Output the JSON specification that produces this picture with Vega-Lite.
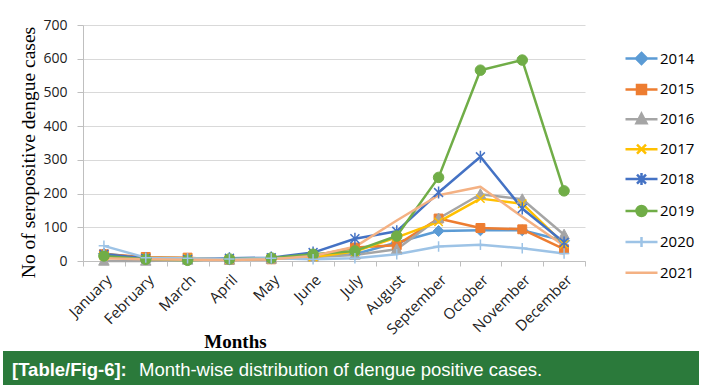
{
  "$schema": "https://vega.github.io/schema/vega-lite/v6.json",
  "padding": {"left": 3, "top": 18, "right": 0, "bottom": 0},
  "background": "white",
  "config": {"view": {"stroke": null}},
  "spacing": -1,
  "vconcat": [
    {
      "width": 502,
      "height": 236,
      "data": {"values": [
        {"month":"January","year":"2014","cases":22},{"month":"February","year":"2014","cases":8},{"month":"March","year":"2014","cases":5},{"month":"April","year":"2014","cases":5},{"month":"May","year":"2014","cases":8},{"month":"June","year":"2014","cases":15},{"month":"July","year":"2014","cases":20},{"month":"August","year":"2014","cases":55},{"month":"September","year":"2014","cases":89},{"month":"October","year":"2014","cases":91},{"month":"November","year":"2014","cases":91},{"month":"December","year":"2014","cases":60},
        {"month":"January","year":"2015","cases":20},{"month":"February","year":"2015","cases":12},{"month":"March","year":"2015","cases":10},{"month":"April","year":"2015","cases":3},{"month":"May","year":"2015","cases":5},{"month":"June","year":"2015","cases":15},{"month":"July","year":"2015","cases":40},{"month":"August","year":"2015","cases":47},{"month":"September","year":"2015","cases":126},{"month":"October","year":"2015","cases":98},{"month":"November","year":"2015","cases":94},{"month":"December","year":"2015","cases":35},
        {"month":"January","year":"2016","cases":0},{"month":"February","year":"2016","cases":0},{"month":"March","year":"2016","cases":3},{"month":"April","year":"2016","cases":3},{"month":"May","year":"2016","cases":6},{"month":"June","year":"2016","cases":12},{"month":"July","year":"2016","cases":18},{"month":"August","year":"2016","cases":35},{"month":"September","year":"2016","cases":126},{"month":"October","year":"2016","cases":198},{"month":"November","year":"2016","cases":183},{"month":"December","year":"2016","cases":78},
        {"month":"January","year":"2017","cases":15},{"month":"February","year":"2017","cases":10},{"month":"March","year":"2017","cases":8},{"month":"April","year":"2017","cases":5},{"month":"May","year":"2017","cases":8},{"month":"June","year":"2017","cases":12},{"month":"July","year":"2017","cases":28},{"month":"August","year":"2017","cases":70},{"month":"September","year":"2017","cases":116},{"month":"October","year":"2017","cases":185},{"month":"November","year":"2017","cases":170},{"month":"December","year":"2017","cases":50},
        {"month":"January","year":"2018","cases":20},{"month":"February","year":"2018","cases":8},{"month":"March","year":"2018","cases":5},{"month":"April","year":"2018","cases":8},{"month":"May","year":"2018","cases":10},{"month":"June","year":"2018","cases":25},{"month":"July","year":"2018","cases":66},{"month":"August","year":"2018","cases":88},{"month":"September","year":"2018","cases":203},{"month":"October","year":"2018","cases":309},{"month":"November","year":"2018","cases":156},{"month":"December","year":"2018","cases":55},
        {"month":"January","year":"2019","cases":15},{"month":"February","year":"2019","cases":5},{"month":"March","year":"2019","cases":2},{"month":"April","year":"2019","cases":6},{"month":"May","year":"2019","cases":9},{"month":"June","year":"2019","cases":20},{"month":"July","year":"2019","cases":30},{"month":"August","year":"2019","cases":74},{"month":"September","year":"2019","cases":248},{"month":"October","year":"2019","cases":566},{"month":"November","year":"2019","cases":596},{"month":"December","year":"2019","cases":208},
        {"month":"January","year":"2020","cases":45},{"month":"February","year":"2020","cases":10},{"month":"March","year":"2020","cases":8},{"month":"April","year":"2020","cases":6},{"month":"May","year":"2020","cases":8},{"month":"June","year":"2020","cases":5},{"month":"July","year":"2020","cases":8},{"month":"August","year":"2020","cases":20},{"month":"September","year":"2020","cases":43},{"month":"October","year":"2020","cases":48},{"month":"November","year":"2020","cases":38},{"month":"December","year":"2020","cases":22},
        {"month":"January","year":"2021","cases":8},{"month":"February","year":"2021","cases":5},{"month":"March","year":"2021","cases":4},{"month":"April","year":"2021","cases":3},{"month":"May","year":"2021","cases":5},{"month":"June","year":"2021","cases":15},{"month":"July","year":"2021","cases":42},{"month":"August","year":"2021","cases":120},{"month":"September","year":"2021","cases":195},{"month":"October","year":"2021","cases":220},{"month":"November","year":"2021","cases":131},{"month":"December","year":"2021","cases":45}
      ]},
      "encoding": {
        "x": {
          "field": "month", "type": "ordinal",
          "sort": ["January","February","March","April","May","June","July","August","September","October","November","December"],
          "scale": {"type": "band", "paddingInner": 0, "paddingOuter": 0},
          "bandPosition": 0.5,
          "axis": {
            "title": "Months", "titleFont": "Liberation Serif", "titleFontSize": 19, "titleFontWeight": "bold", "titleColor": "#000",
            "titleX": 152, "titleY": 86, "titleBaseline": "alphabetic", "titleAlign": "center",
            "labelAngle": -45, "labelFont": "Open Sans", "labelFontSize": 15, "labelColor": "#222", "labelPadding": 6,
            "tickBand": "extent", "tickSize": 5, "tickColor": "#bfbfbf", "domainColor": "#bfbfbf", "grid": false
          }
        },
        "y": {
          "field": "cases", "type": "quantitative",
          "scale": {"domain": [0, 700], "nice": false},
          "axis": {
            "values": [0,100,200,300,400,500,600,700],
            "title": ["", "No of seropositive dengue cases"], "titleFont": "Liberation Serif", "titleFontSize": 19.5, "titleFontWeight": "normal", "titleColor": "#000",
            "titleLineHeight": 14, "titlePadding": 4, "titleY": 127,
            "labelFont": "Open Sans", "labelFontSize": 14, "labelColor": "#222", "labelPadding": 10,
            "tickSize": 6, "tickColor": "#bfbfbf", "domainColor": "#bfbfbf", "gridColor": "#d9d9d9"
          }
        }
      },
      "layer": [
        {
          "mark": {"type": "line", "strokeWidth": 2.5, "strokeJoin": "round"},
          "encoding": {
            "color": {
              "field": "year", "type": "nominal",
              "scale": {"domain": ["2014","2015","2016","2017","2018","2019","2020","2021"], "range": ["#5B9BD5","#ED7D31","#A5A5A5","#FFC000","#4472C4","#70AD47","#9DC3E6","#F4B183"]},
              "legend": {
                "orient": "none", "legendX": 547, "legendY": 22, "title": null, "padding": 0,
                "symbolSize": 400, "symbolStrokeWidth": 2.5, "rowPadding": 8.9, "labelOffset": 7,
                "labelFont": "Open Sans", "labelFontSize": 15, "labelColor": "#000",
                "encode": {"symbols": {"update": {
                  "shape": {"signal": "datum.value === '2014' ? 'M-1.6,0H1.6M0,-0.55L0.55,0L0,0.55L-0.55,0Z' : datum.value === '2015' ? 'M-1.6,0H1.6M-0.45,-0.45H0.45V0.45H-0.45Z' : datum.value === '2016' ? 'M-1.6,0H1.6M0,-0.55L0.5,0.4H-0.5Z' : datum.value === '2017' ? 'M-1.6,0H1.6M-0.45,-0.45L0.45,0.45M-0.45,0.45L0.45,-0.45' : datum.value === '2018' ? 'M-1.6,0H1.6M-0.45,-0.45L0.45,0.45M-0.45,0.45L0.45,-0.45M0,-0.6V0.6' : datum.value === '2019' ? 'M-1.6,0H1.6M-0.5,0A0.5,0.5 0 1,0 0.5,0A0.5,0.5 0 1,0 -0.5,0Z' : datum.value === '2020' ? 'M-1.6,0H1.6M0,-0.5V0.5' : 'M-1.6,0H1.6'"},
                  "fill": {"scale": "color", "field": "value"},
                  "stroke": {"scale": "color", "field": "value"},
                  "strokeWidth": {"value": 2.5},
                  "opacity": {"value": 1}
                }}}
              }
            }
          }
        },
        {"transform": [{"filter": "datum.year === '2014'"}], "mark": {"type": "point", "shape": "M0,-1.05L1.05,0L0,1.05L-1.05,0Z", "size": 110, "filled": true, "fill": "#5B9BD5", "stroke": "#5B9BD5", "strokeWidth": 1, "opacity": 1}},
        {"transform": [{"filter": "datum.year === '2015'"}], "mark": {"type": "point", "shape": "M-0.85,-0.85H0.85V0.85H-0.85Z", "size": 110, "filled": true, "fill": "#ED7D31", "stroke": "#ED7D31", "strokeWidth": 1, "opacity": 1}},
        {"transform": [{"filter": "datum.year === '2016'"}], "mark": {"type": "point", "shape": "M0,-1.05L1,0.8H-1Z", "size": 110, "filled": true, "fill": "#A5A5A5", "stroke": "#A5A5A5", "strokeWidth": 1, "opacity": 1}},
        {"transform": [{"filter": "datum.year === '2017'"}], "mark": {"type": "point", "shape": "M-0.8,-0.8L0.8,0.8M-0.8,0.8L0.8,-0.8", "size": 110, "filled": false, "stroke": "#FFC000", "strokeWidth": 1.5, "opacity": 1}},
        {"transform": [{"filter": "datum.year === '2018'"}], "mark": {"type": "point", "shape": "M-0.85,-0.85L0.85,0.85M-0.85,0.85L0.85,-0.85M0,-1.15V1.15", "size": 110, "filled": false, "stroke": "#4472C4", "strokeWidth": 1.5, "opacity": 1}},
        {"transform": [{"filter": "datum.year === '2019'"}], "mark": {"type": "point", "shape": "circle", "size": 110, "filled": true, "fill": "#70AD47", "stroke": "#70AD47", "strokeWidth": 1, "opacity": 1}},
        {"transform": [{"filter": "datum.year === '2020'"}], "mark": {"type": "point", "shape": "M0,-1V1M-1,0H1", "size": 110, "filled": false, "stroke": "#9DC3E6", "strokeWidth": 1.5, "opacity": 1}}
      ]
    },
    {
      "width": 616,
      "height": 37,
      "view": {"stroke": null},
      "encoding": {
        "x": {"datum": 0, "type": "quantitative", "scale": {"domain": [0, 1], "range": [-80, 616]}, "axis": null}
      },
      "layer": [
        {
          "data": {"values": [{"label": "[Table/Fig-6]:"}]},
          "mark": {"type": "rect", "color": "#2b7a3b", "opacity": 1, "clip": false},
          "encoding": {"x2": {"datum": 1}}
        },
        {
          "data": {"values": [{"label": "[Table/Fig-6]:"}]},
          "mark": {"type": "text", "font": "Liberation Sans", "fontSize": 18.5, "fontWeight": "bold", "color": "white", "align": "left", "baseline": "middle", "dx": 9},
          "encoding": {"text": {"field": "label", "type": "nominal"}}
        },
        {
          "data": {"values": [{"label": "Month-wise distribution of dengue positive cases."}]},
          "mark": {"type": "text", "font": "Liberation Sans", "fontSize": 18.5, "color": "white", "align": "left", "baseline": "middle", "dx": 136},
          "encoding": {"text": {"field": "label", "type": "nominal"}}
        }
      ]
    }
  ]
}
